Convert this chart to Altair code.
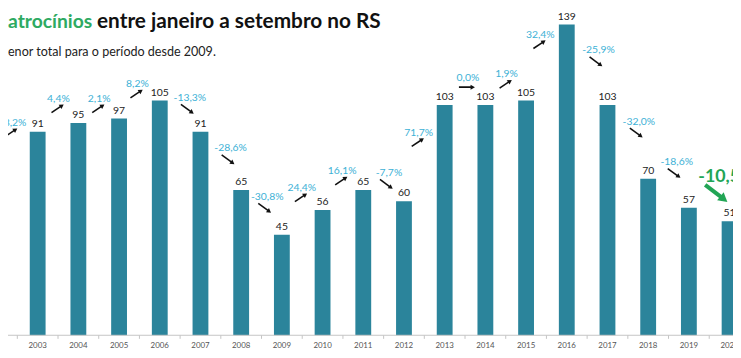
import altair as alt
import pandas as pd

years = list(range(2002, 2021))
values = [77, 91, 95, 97, 105, 91, 65, 45, 56, 65, 60, 103, 103, 105, 139, 103, 70, 57, 51]

pct_labels = ["18,2%", "4,4%", "2,1%", "8,2%", "-13,3%", "-28,6%", "-30,8%", "24,4%", "16,1%",
              "-7,7%", "71,7%", "0,0%", "1,9%", "32,4%", "-25,9%", "-32,0%", "-18,6%", "-10,5%"]
pct_change = [18.2, 4.4, 2.1, 8.2, -13.3, -28.6, -30.8, 24.4, 16.1, -7.7, 71.7, 0.0, 1.9, 32.4,
              -25.9, -32.0, -18.6, -10.5]
# annotation anchors (year units, value units)
pct_x = [2002.37, 2003.51, 2004.51, 2005.45, 2006.74, 2007.74, 2008.64, 2009.49, 2010.48,
         2011.63, 2012.36, 2013.57, 2014.52, 2015.35, 2016.78, 2017.77, 2018.70]
pct_y = [95.1, 105.8, 105.8, 112.4, 106.2, 83.6, 61.9, 66.0, 73.5, 72.6, 90.7, 115.0, 116.8,
         134.5, 127.4, 95.6, 77.5]
last_x, last_y = 2019.23, 70.8

title_green = "atrocínios"
title_black = "entre janeiro a setembro no RS"
subtitle = "enor total para o período desde 2009."

BAR = "#2b849b"
BLUE = "#3cb1d6"
GREEN = "#22a555"
FONT = "Lato"

W, H = 733, 342
XMIN, XMAX = 2002.271, 2020.084
YMIN, YMAX = -5.75, 145.58

xs = alt.Scale(domain=[XMIN, XMAX], nice=False, zero=False, padding=0)
ys = alt.Scale(domain=[YMIN, YMAX], nice=False, zero=False, padding=0)

bars_df = pd.DataFrame({"year": years, "value": values, "label": [str(v) for v in values]})

ann_rows, arrow_rows = [], []
for i, x in enumerate(pct_x):
    y = pct_y[i]
    c = pct_change[i]
    ann_rows.append({"x": x, "y": y, "t": pct_labels[i]})
    if c > 0:
        x1, y1, x2, y2, ang = x - 0.17, y - 6.2, x + 0.085, y - 3.1, 56
    elif c < 0:
        x1, y1, x2, y2, ang = x - 0.22, y - 2.9, x + 0.05, y - 6.5, 126
    else:
        x1, y1, x2, y2, ang = x - 0.22, y - 4.0, x + 0.12, y - 4.0, 90
    arrow_rows.append({"x1": x1, "y1": y1, "x2": x2, "y2": y2, "ang": ang})
ann_df = pd.DataFrame(ann_rows)
arr_df = pd.DataFrame(arrow_rows)

ticks_df = pd.DataFrame({"x": [y + 0.5 for y in years[:-1]]})

base = alt.Chart(bars_df)

bars = base.mark_bar(size=16, color=BAR, clip=True).encode(
    x=alt.X("year:Q", scale=xs, axis=None),
    y=alt.Y("value:Q", scale=ys, axis=None),
    y2=alt.datum(0),
)
vals = base.mark_text(baseline="bottom", dy=-3, fontSize=10.5, font=FONT, color="#222").encode(
    x=alt.X("year:Q", scale=xs), y=alt.Y("value:Q", scale=ys), text="label:N"
)
yearlab = base.mark_text(baseline="middle", fontSize=8, font=FONT, color="#555", clip=True).encode(
    x=alt.X("year:Q", scale=xs), y=alt.datum(-4.8), text="year:N"
)
axisline = alt.Chart(pd.DataFrame({"a": [0]})).mark_rule(color="#c4c4c4", strokeWidth=1).encode(
    x=alt.value(0), x2=alt.value(W), y=alt.datum(0, scale=ys)
)
ticks = alt.Chart(ticks_df).mark_rule(color="#c4c4c4", strokeWidth=1, clip=True).encode(
    x=alt.X("x:Q", scale=xs), y=alt.datum(0), y2=alt.datum(-1.6)
)
pct = alt.Chart(ann_df).mark_text(fontSize=10.5, font=FONT, color=BLUE, clip=True).encode(
    x=alt.X("x:Q", scale=xs), y=alt.Y("y:Q", scale=ys), text="t:N"
)
arrows = alt.Chart(arr_df).mark_rule(color="#111", strokeWidth=1.6, clip=True).encode(
    x=alt.X("x1:Q", scale=xs), x2="x2:Q", y=alt.Y("y1:Q", scale=ys), y2="y2:Q"
)
heads = alt.Chart(arr_df).mark_point(shape="triangle-up", filled=True, color="#111", size=26,
                                     opacity=1, clip=True).encode(
    x=alt.X("x2:Q", scale=xs), y=alt.Y("y2:Q", scale=ys), angle=alt.Angle("ang:Q", scale=None)
)

last_df = pd.DataFrame({"x": [last_x], "y": [last_y], "t": [pct_labels[-1]],
                        "x1": [2019.40], "y1": [67.3], "x2": [2019.86], "y2": [60.9], "ang": [129]})
last_txt = alt.Chart(last_df).mark_text(align="left", fontSize=18, fontWeight="bold", font=FONT,
                                        color=GREEN, clip=True).encode(
    x=alt.X("x:Q", scale=xs), y=alt.Y("y:Q", scale=ys), text="t:N"
)
last_arrow = alt.Chart(last_df).mark_rule(color=GREEN, strokeWidth=4, clip=True).encode(
    x=alt.X("x1:Q", scale=xs), x2="x2:Q", y=alt.Y("y1:Q", scale=ys), y2="y2:Q"
)
last_head = alt.Chart(last_df).mark_point(shape="triangle-up", filled=True, color=GREEN, size=110,
                                          opacity=1, clip=True).encode(
    x=alt.X("x2:Q", scale=xs), y=alt.Y("y2:Q", scale=ys), angle=alt.Angle("ang:Q", scale=None)
)

tdf = pd.DataFrame({"g": [title_green], "b": [title_black], "s": [subtitle]})
t_green = alt.Chart(tdf).mark_text(align="left", baseline="middle", fontSize=19.5, fontWeight="bold",
                                   font=FONT, color="#2eaa62").encode(
    x=alt.value(0), y=alt.value(12), text="g:N")
t_black = alt.Chart(tdf).mark_text(align="left", baseline="middle", fontSize=21, fontWeight="bold",
                                   font=FONT, color="#111").encode(
    x=alt.value(90), y=alt.value(12), text="b:N")
t_sub = alt.Chart(tdf).mark_text(align="left", baseline="middle", fontSize=12.7,
                                 font=FONT, color="#222").encode(
    x=alt.value(0), y=alt.value(43), text="s:N")

chart = alt.layer(
    bars, axisline, ticks, vals, yearlab, arrows, heads, pct, last_arrow, last_head, last_txt,
    t_green, t_black, t_sub
).properties(
    width=W, height=H, autosize=alt.AutoSizeParams(type="none"), padding=0
).configure_view(stroke=None)

chart.save("out.html", embed_options={"renderer": "svg", "actions": False})
